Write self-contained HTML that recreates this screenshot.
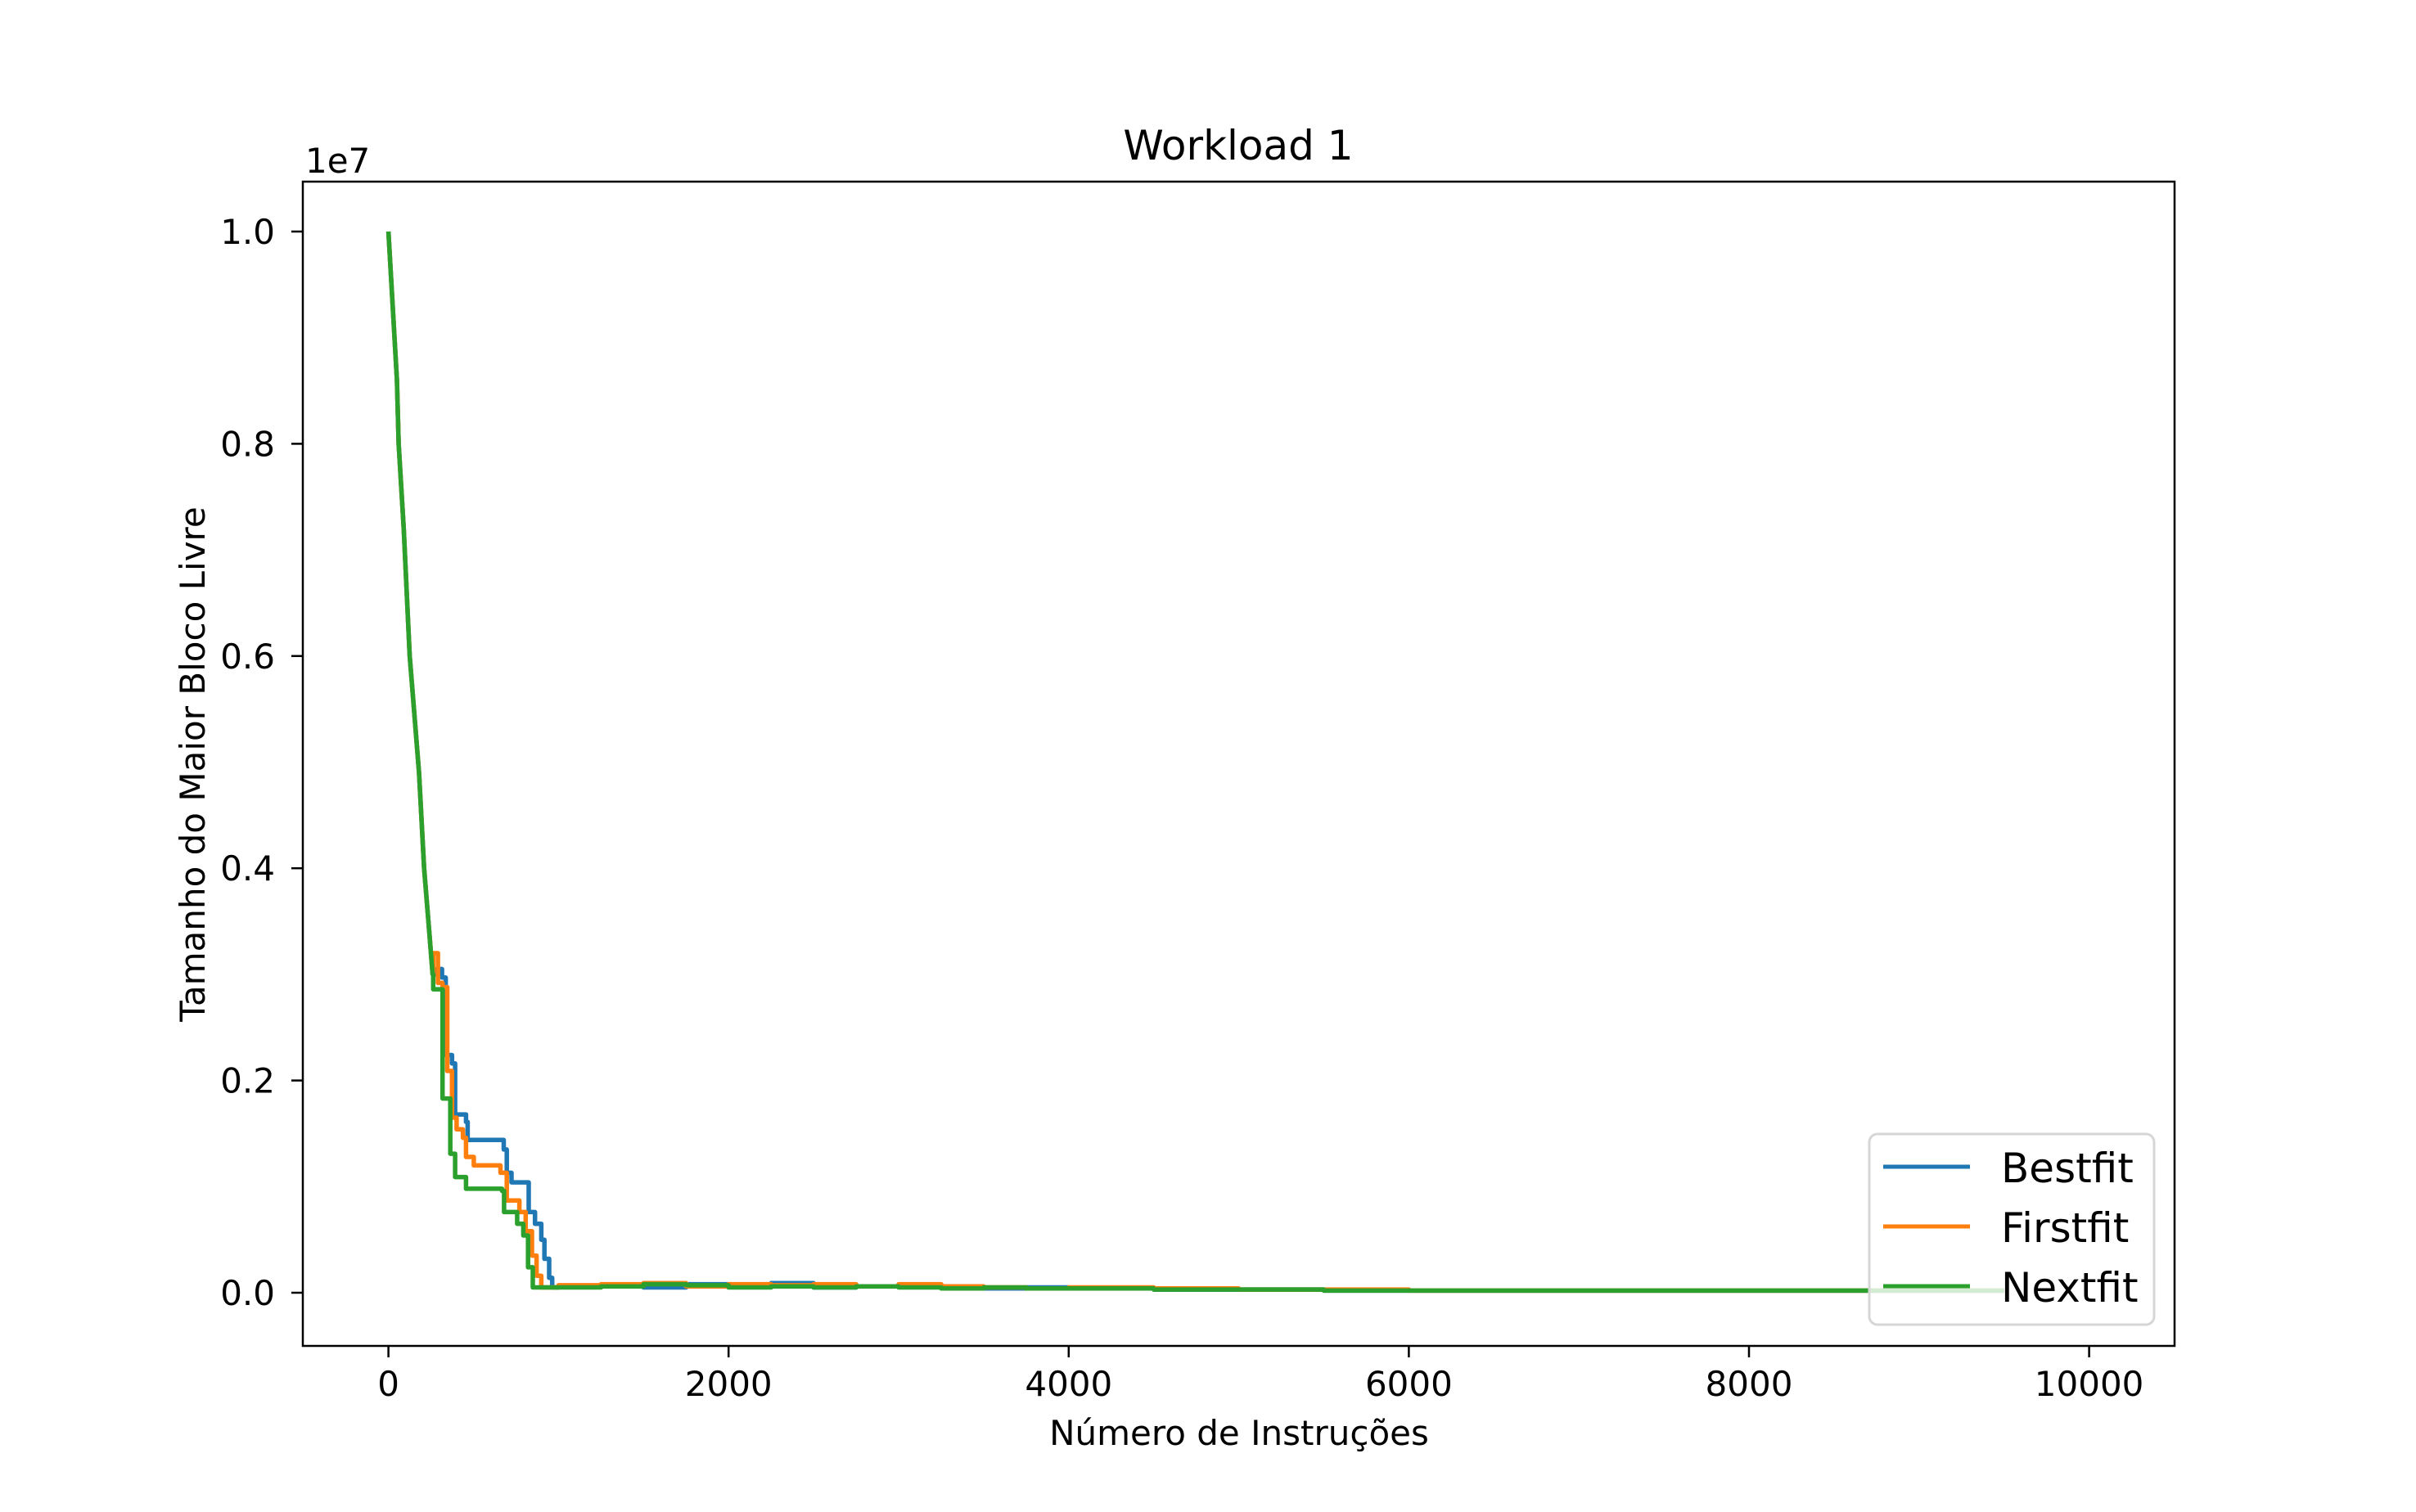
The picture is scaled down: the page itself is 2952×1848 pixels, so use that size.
<!DOCTYPE html>
<html><head><meta charset="utf-8"><style>
html,body{margin:0;padding:0;background:#fff;}
svg{display:block;font-family:"DejaVu Sans","Liberation Sans",sans-serif;}
</style></head><body>
<svg id="chart" width="2952" height="1848" viewBox="0 0 2952 1848">
<rect width="2952" height="1848" fill="#fff"/>
<g id="plot"></g>
<g id="axes"></g>
</svg>
<script>
// data (y in units of 1e6)
const seriesNames = ["Bestfit","Firstfit","Nextfit"];
const seriesColors = ["#1f77b4","#ff7f0e","#2ca02c"];
const headX = [0,25,50,60,90,125,150,180,210,240,260];
const headY = [10.0,9.3,8.6,8.0,7.2,6.0,5.5,4.9,4.0,3.4,3.0];
const bestX = [282,315,337,374,392,456,466,641,678,696,724,816,825,862,899,917,945,963];
const bestY = [3.05,2.97,2.24,2.16,1.68,1.61,1.44,1.44,1.35,1.13,1.04,1.04,0.76,0.65,0.50,0.32,0.14,0.05];
const firstX = [263,291,318,346,374,401,438,456,502,622,659,696,770,807,844,871,899];
const firstY = [3.2,2.92,2.88,2.09,1.65,1.54,1.46,1.28,1.20,1.20,1.13,0.87,0.76,0.58,0.35,0.16,0.05];
const nextX = [263,318,364,392,456,668,680,757,793,821,849];
const nextY = [2.86,1.83,1.31,1.09,0.98,0.96,0.76,0.65,0.54,0.24,0.05];
const tailX = [1000,1250,1500,1750,2000,2250,2500,2750,3000,3250,3500,3750,4000,4500,5000,5500,6000,7000,8000,9000,9500];
const bestTail = [0.06,0.07,0.05,0.08,0.06,0.09,0.05,0.06,0.07,0.05,0.04,0.05,0.04,0.03,0.03,0.02,0.02,0.02,0.02,0.02,0.02];
const firstTail = [0.07,0.08,0.09,0.06,0.08,0.07,0.08,0.06,0.08,0.06,0.05,0.04,0.05,0.04,0.03,0.03,0.02,0.02,0.02,0.02,0.02];
const nextTail = [0.05,0.06,0.08,0.07,0.05,0.06,0.05,0.06,0.05,0.04,0.05,0.04,0.04,0.03,0.03,0.02,0.02,0.02,0.02,0.02,0.02];
const xTicks = [0,2000,4000,6000,8000,10000];
const xTickLabels = ["0","2000","4000","6000","8000","10000"];
const yTicks = [0,2,4,6,8,10];
const yTickLabels = ["0.0","0.2","0.4","0.6","0.8","1.0"];

const L=370, R=2657, T=222, B=1645;
function sx(v){return 474.6 + v*0.2078;}
function sy(v){return 1580 - v*129.7;}
const NS="http://www.w3.org/2000/svg";
function mk(tag,attrs,parent){const e=document.createElementNS(NS,tag);for(const k in attrs)e.setAttribute(k,attrs[k]);parent.appendChild(e);return e;}
const plot=document.getElementById('plot');
const axes=document.getElementById('axes');

const midX=[bestX,firstX,nextX], midY=[bestY,firstY,nextY], tY=[bestTail,firstTail,nextTail];
for(let s=0;s<3;s++){
  let pts=[];
  for(let i=0;i<headX.length;i++) pts.push(sx(headX[i]).toFixed(1)+","+sy(headY[i]).toFixed(1));
  let prev=headY[headY.length-1];
  const xs=midX[s].concat(tailX), ys=midY[s].concat(tY[s]);
  for(let i=0;i<xs.length;i++){
    pts.push(sx(xs[i]).toFixed(1)+","+sy(prev).toFixed(1));
    pts.push(sx(xs[i]).toFixed(1)+","+sy(ys[i]).toFixed(1));
    prev=ys[i];
  }
  const p=mk('polyline',{points:pts.join(" "),fill:"none",stroke:seriesColors[s],"stroke-width":5.5,"stroke-linejoin":"round"},plot);
  
  
}
const fr=mk('rect',{x:L,y:T,width:R-L,height:B-T,fill:"none",stroke:"#000","stroke-width":2.5},axes);


xTicks.forEach((v,i)=>{
  const x=sx(v);
  const t=mk('line',{x1:x,y1:B,x2:x,y2:B+14,stroke:"#000","stroke-width":2.5},axes);
  
  
  const tx=mk('text',{x:x,y:1706,"font-size":42,"text-anchor":"middle"},axes);
  tx.textContent=xTickLabels[i];
  
  
});
yTicks.forEach((v,i)=>{
  const y=sy(v);
  const t=mk('line',{x1:L-14,y1:y,x2:L,y2:y,stroke:"#000","stroke-width":2.5},axes);
  
  
  const tx=mk('text',{x:336,y:y+15,"font-size":42,"text-anchor":"end"},axes);
  tx.textContent=yTickLabels[i];
  
  
});
const lg=mk('g',{},axes);


mk('rect',{x:2284,y:1386,width:348,height:233,rx:10,fill:"#fff","fill-opacity":0.8,stroke:"#d6d6d6","stroke-width":3},lg);
const ly=[1426,1499,1572];
for(let s=0;s<3;s++){
  const h=mk('line',{x1:2301,y1:ly[s],x2:2407,y2:ly[s],stroke:seriesColors[s],"stroke-width":5},lg);
  
  
  const t=mk('text',{x:2445,y:ly[s]+19,"font-size":50},lg);
  t.textContent=seriesNames[s];
  
  
}
</script>
<svg style="position:absolute;left:0;top:0" width="2952" height="1848">
<text x="1513" y="195" font-size="50" text-anchor="middle" font-family="DejaVu Sans, Liberation Sans, sans-serif">Workload 1</text>
<text x="373" y="211" font-size="42" font-family="DejaVu Sans, Liberation Sans, sans-serif">1e7</text>
<text x="1514" y="1766" font-size="42" text-anchor="middle" font-family="DejaVu Sans, Liberation Sans, sans-serif">Número de Instruções</text>
<text transform="translate(250,934) rotate(-90)" font-size="42" text-anchor="middle" font-family="DejaVu Sans, Liberation Sans, sans-serif">Tamanho do Maior Bloco Livre</text>
</svg>
</body></html>
